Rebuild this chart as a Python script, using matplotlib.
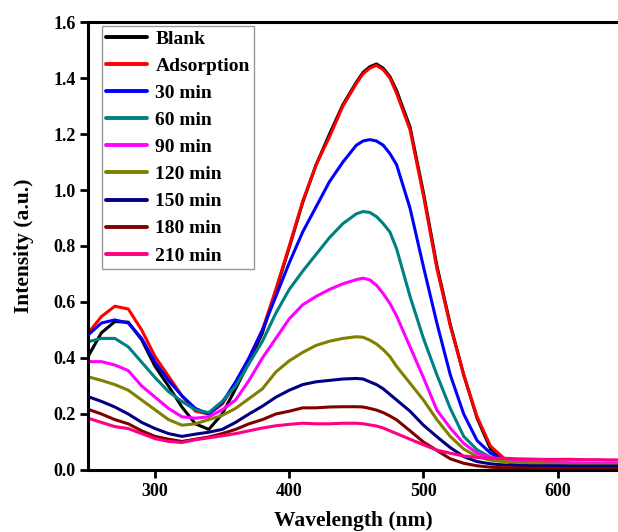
import matplotlib
matplotlib.use("Agg")
import matplotlib.pyplot as plt

# Wavelength grid (nm)
wavelength = [250, 260, 270, 280, 290, 300, 310, 320, 330, 340, 350, 360, 370, 380,
              390, 400, 410, 420, 430, 440, 450, 455, 460, 465, 470, 475, 480, 490,
              500, 510, 520, 530, 540, 550, 560, 570, 580, 590, 600, 610, 620, 630,
              640, 650]

blank = [0.405, 0.49, 0.53, 0.528, 0.465, 0.37, 0.30, 0.225, 0.165, 0.145, 0.20, 0.29,
         0.385, 0.49, 0.64, 0.795, 0.955, 1.09, 1.20, 1.305, 1.385,
         1.42, 1.44, 1.45, 1.435, 1.405, 1.355,
         1.225, 0.99, 0.73, 0.52, 0.34, 0.185, 0.075, 0.035, 0.02, 0.015, 0.012, 0.01,
         0.01, 0.01, 0.01, 0.01, 0.01]

adsorption = [0.488, 0.548, 0.585, 0.575, 0.50, 0.405, 0.335, 0.265, 0.21, 0.20, 0.235,
              0.31, 0.40, 0.50, 0.645, 0.80, 0.96, 1.09, 1.19, 1.30, 1.38,
              1.415, 1.435, 1.445, 1.43, 1.40, 1.345,
              1.215, 0.98, 0.72, 0.515, 0.34, 0.19, 0.085, 0.042, 0.03, 0.025, 0.022,
              0.02, 0.02, 0.018, 0.018, 0.016, 0.016]

min30 = [0.482, 0.525, 0.536, 0.525, 0.47, 0.385, 0.32, 0.265, 0.22, 0.20, 0.24, 0.315,
         0.40, 0.50, 0.62, 0.74, 0.85, 0.94, 1.03, 1.10, 1.16,
         1.175, 1.18, 1.175, 1.16, 1.13, 1.09,
         0.935, 0.726, 0.525, 0.34, 0.20, 0.105, 0.06, 0.035, 0.027, 0.024, 0.022,
         0.021, 0.02, 0.02, 0.02, 0.02, 0.02]

min60 = [0.458, 0.47, 0.47, 0.44, 0.385, 0.33, 0.28, 0.245, 0.215, 0.205, 0.245, 0.30,
         0.38, 0.46, 0.56, 0.645, 0.71, 0.77, 0.83, 0.88, 0.915,
         0.923, 0.92, 0.905, 0.88, 0.85, 0.79,
         0.62, 0.47, 0.34, 0.22, 0.12, 0.072, 0.045, 0.032, 0.027, 0.025, 0.023,
         0.022, 0.022, 0.021, 0.021, 0.02, 0.02]

min90 = [0.387, 0.387, 0.375, 0.355, 0.30, 0.26, 0.22, 0.19, 0.185, 0.19, 0.215, 0.25,
         0.32, 0.40, 0.47, 0.54, 0.59, 0.62, 0.645, 0.665, 0.68,
         0.685, 0.679, 0.66, 0.63, 0.595, 0.55,
         0.44, 0.33, 0.214, 0.15, 0.095, 0.06, 0.045, 0.036, 0.032, 0.03, 0.028,
         0.027, 0.026, 0.025, 0.025, 0.025, 0.025]

min120 = [0.333, 0.32, 0.305, 0.285, 0.25, 0.215, 0.18, 0.16, 0.165, 0.18, 0.195, 0.22,
          0.255, 0.29, 0.35, 0.39, 0.42, 0.445, 0.46, 0.47, 0.476,
          0.474, 0.464, 0.45, 0.43, 0.405, 0.37,
          0.31, 0.25, 0.18, 0.12, 0.075, 0.048, 0.035, 0.03, 0.026, 0.024, 0.022,
          0.021, 0.02, 0.02, 0.02, 0.02, 0.02]

min150 = [0.262, 0.245, 0.225, 0.20, 0.17, 0.148, 0.13, 0.12, 0.128, 0.135, 0.145, 0.17,
          0.20, 0.228, 0.26, 0.285, 0.305, 0.315, 0.32, 0.325, 0.327,
          0.325, 0.315, 0.305, 0.29, 0.27, 0.25,
          0.21, 0.16, 0.119, 0.08, 0.048, 0.03, 0.022, 0.018, 0.016, 0.015, 0.015,
          0.015, 0.014, 0.014, 0.014, 0.014, 0.014]

min180 = [0.217, 0.20, 0.18, 0.165, 0.14, 0.12, 0.11, 0.102, 0.11, 0.118, 0.13, 0.145,
          0.165, 0.18, 0.20, 0.21, 0.222, 0.222, 0.225, 0.226, 0.226,
          0.225, 0.22, 0.214, 0.205, 0.193, 0.179,
          0.14, 0.10, 0.07, 0.04, 0.024, 0.015, 0.01, 0.008, 0.007, 0.006, 0.006,
          0.005, 0.005, 0.005, 0.005, 0.005, 0.005]

min210 = [0.185, 0.17, 0.155, 0.148, 0.13, 0.112, 0.102, 0.098, 0.108, 0.115, 0.122, 0.13,
          0.14, 0.15, 0.158, 0.163, 0.167, 0.165, 0.165, 0.167, 0.167,
          0.165, 0.161, 0.157, 0.15, 0.14, 0.13,
          0.11, 0.09, 0.071, 0.06, 0.05, 0.045, 0.042, 0.042, 0.04, 0.039, 0.038,
          0.038, 0.038, 0.037, 0.037, 0.036, 0.036]

labels = ["Blank", "Adsorption", "30 min", "60 min", "90 min",
          "120 min", "150 min", "180 min", "210 min"]
series = [blank, adsorption, min30, min60, min90, min120, min150, min180, min210]
colors = ["#000000", "#ff0000", "#0000ff", "#008080", "#ff00ff",
          "#808000", "#000080", "#800000", "#ff0080"]

x_ticks = [300, 400, 500, 600]
y_ticks = [0.0, 0.2, 0.4, 0.6, 0.8, 1.0, 1.2, 1.4, 1.6]

plt.rcParams["font.family"] = ["Liberation Serif", "DejaVu Serif"]
plt.rcParams["font.weight"] = "bold"

W, H = 618, 532
fig = plt.figure(figsize=(W / 100, H / 100), dpi=100)
ax = fig.add_axes([88 / W, 62 / H, 1 - 88 / W, (470 - 22) / H])

for y, lab, c in zip(series, labels, colors):
    ax.plot(wavelength, y, color=c, lw=2.2, label=lab,
            solid_joinstyle="round", solid_capstyle="round")

ax.set_xlim(250, 645)
ax.set_ylim(0, 1.6)
ax.set_xticks(x_ticks)
ax.set_yticks(y_ticks)
ax.set_yticklabels([f"{v:.1f}" for v in y_ticks])

for side in ("left", "bottom", "top"):
    ax.spines[side].set_linewidth(2.2)
ax.spines["right"].set_visible(False)
ax.tick_params(axis="both", direction="out", length=6, width=2,
               labelsize=13, pad=3)
for lbl in ax.get_xticklabels() + ax.get_yticklabels():
    lbl.set_fontweight("bold")

ax.set_xlabel("Wavelength (nm)", fontsize=15.5, fontweight="bold", labelpad=8)
ax.set_ylabel("Intensity (a.u.)", fontsize=15.5, fontweight="bold", labelpad=14)

leg = ax.legend(loc="upper left", bbox_to_anchor=(102 / W, 1 - 26 / H),
                bbox_transform=fig.transFigure, borderaxespad=0,
                fontsize=14, frameon=True, fancybox=False,
                handlelength=2.1, handletextpad=0.45, labelspacing=0.49,
                borderpad=0.2)
leg.get_frame().set_edgecolor("#808080")
leg.get_frame().set_linewidth(1.0)
for line in leg.get_lines():
    line.set_linewidth(2.8)
for t in leg.get_texts():
    t.set_fontweight("bold")

fig.savefig("out.png", dpi=100)
